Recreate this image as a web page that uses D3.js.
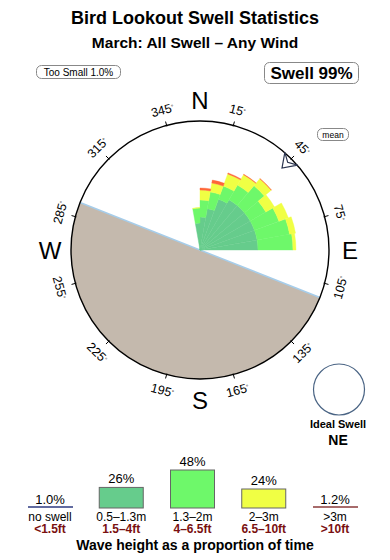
<!DOCTYPE html>
<html>
<head>
<meta charset="utf-8">
<script src="https://cdn.jsdelivr.net/npm/d3@7"></script>
<style>
  body { margin: 0; background: #fff; }
  text { font-family: "Liberation Sans", Arial, sans-serif; }
</style>
</head>
<body>
<div id="container"></div>
<script>
/* CONSTANTS AND GLOBALS */
const width = 390;
const height = 560;
const cx = 200, cy = 250, radius = 129;

/* DATA */
// direction bins (centre bearing, 10 deg wide)
const dirs = [355, 5, 15, 25, 35, 45, 55, 65, 75, 85];
// % of time per bin for each wave height band
const band1 = [1.05, 1.57, 2.54, 4.21, 4.85, 4.85, 4.85, 4.85, 4.85, 4.85]; // 0.5-1.3m
const band2 = [1.49, 2.04, 2.48, 2.46, 3.26, 5.33, 3.48, 5.33, 7.09, 7.62]; // 1.3-2m
const band3 = [0.05, 1.58, 1.65, 2.79, 2.81, 2.29, 2.34, 2.56, 1.63, 0.82]; // 2-3m
const band4 = [0.00, 0.35, 0.60, 0.24, 0.12, 0.08, 0.00, 0.00, 0.00, 0.00]; // >3m
const bandKeys = ["b1", "b2", "b3", "b4"];
const bandColors = ["#66cc8c", "#6ef86a", "#f0ff44", "#ff6638"];

const tickDegs = [15, 45, 75, 105, 135, 165, 195, 225, 255, 285, 315, 345];
const compassLabels = ["N", "E", "S", "W"];
const compassDegs = [0, 90, 180, 270];

// land sector (bearings) and mean direction
const landFrom = 111.6, landTo = 291.6;
const meanDir = 45;

// legend
const legendCats = ["no swell", "0.5–1.3m", "1.3–2m", "2–3m", ">3m"];
const legendFeet = ["<1.5ft", "1.5–4ft", "4–6.5ft", "6.5–10ft", ">10ft"];
const legendPct = [1.0, 26, 48, 24, 1.2];
const legendLabels = ["1.0%", "26%", "48%", "24%", "1.2%"];
const legendColors = [null, "#66cc8c", "#6ef86a", "#f0ff44", null];
const legendLineColors = ["#2e3a80", null, null, null, "#8a3a3a"];

const rad = d => d * Math.PI / 180;
const polar = (deg, r) => [cx + r * Math.sin(rad(deg)), cy - r * Math.cos(rad(deg))];

/* SVG */
const svg = d3.select("#container")
  .append("svg")
  .attr("width", width)
  .attr("height", height);

// titles
svg.append("text")
  .attr("x", 195).attr("y", 24)
  .attr("text-anchor", "middle")
  .style("font-size", "18px").style("font-weight", "bold")
  .text("Bird Lookout Swell Statistics");

svg.append("text")
  .attr("x", 195).attr("y", 48)
  .attr("text-anchor", "middle")
  .style("font-size", "15.5px").style("font-weight", "bold")
  .text("March: All Swell – Any Wind");

// small boxes
function labelBox(x, y, w, h, txt, size, weight) {
  svg.append("rect")
    .attr("x", x).attr("y", y).attr("width", w).attr("height", h)
    .attr("rx", 5)
    .attr("fill", "#fff").attr("stroke", "#888").attr("stroke-width", 1);
  svg.append("text")
    .attr("x", x + w / 2).attr("y", y + h / 2)
    .attr("dy", "0.36em")
    .attr("text-anchor", "middle")
    .style("font-size", size + "px").style("font-weight", weight)
    .text(txt);
}
labelBox(36.5, 65.5, 84, 13, "Too Small 1.0%", 10, "normal");
labelBox(264.5, 62.5, 94, 21, "Swell 99%", 17, "bold");
labelBox(317.5, 128.5, 31, 12, "mean", 8.5, "normal");

/* SCALES */
const rScale = d3.scaleSqrt()
  .domain([0, 24])
  .range([0, radius]);

/* ROSE */
const g = svg.append("g");

// circle background
g.append("circle")
  .attr("cx", cx).attr("cy", cy).attr("r", radius)
  .attr("fill", "#fff");

// land
const landArc = d3.arc()
  .innerRadius(0).outerRadius(radius)
  .startAngle(rad(landFrom)).endAngle(rad(landTo));
g.append("path")
  .attr("transform", `translate(${cx},${cy})`)
  .attr("d", landArc())
  .attr("fill", "#c4b9ad");

// coastline
const c1 = polar(landTo, radius), c2 = polar(landFrom, radius);
g.append("line")
  .attr("x1", c1[0]).attr("y1", c1[1])
  .attr("x2", c2[0]).attr("y2", c2[1])
  .attr("stroke", "#a6cdea").attr("stroke-width", 1.5);

// stacked wedges
const roseData = dirs.map((d, i) => ({
  dir: d, b1: band1[i], b2: band2[i], b3: band3[i], b4: band4[i]
}));
const stacked = d3.stack().keys(bandKeys)(roseData);

const wedge = d3.arc()
  .innerRadius(d => rScale(d[0]))
  .outerRadius(d => rScale(d[1]))
  .startAngle(d => rad(d.data.dir - 5))
  .endAngle(d => rad(d.data.dir + 5));

g.selectAll(".band")
  .data(stacked)
  .join("g")
  .attr("class", "band")
  .attr("fill", (d, i) => bandColors[i])
  .selectAll("path")
  .data(d => d.filter(s => s[1] - s[0] > 0))
  .join("path")
  .attr("transform", `translate(${cx},${cy})`)
  .attr("d", wedge)
  .attr("stroke", function () { return d3.select(this.parentNode).attr("fill"); })
  .attr("stroke-width", 0.4);

// outer circle
g.append("circle")
  .attr("cx", cx).attr("cy", cy).attr("r", radius)
  .attr("fill", "none").attr("stroke", "#000").attr("stroke-width", 1.4);

// ticks
g.selectAll(".tick")
  .data(tickDegs)
  .join("line")
  .attr("class", "tick")
  .attr("x1", d => polar(d, radius - 1)[0])
  .attr("y1", d => polar(d, radius - 1)[1])
  .attr("x2", d => polar(d, radius + 4)[0])
  .attr("y2", d => polar(d, radius + 4)[1])
  .attr("stroke", "#000").attr("stroke-width", 1);

// tick labels
const tl = g.selectAll(".tlabel")
  .data(tickDegs)
  .join("text")
  .attr("class", "tlabel")
  .attr("text-anchor", "middle")
  .attr("dy", "0.36em")
  .attr("transform", d => {
    const p = polar(d, 145);
    const rot = (d > 90 && d < 270) ? d - 180 : d;
    return `translate(${p[0]},${p[1]}) rotate(${rot})`;
  })
  .style("font-size", "12.5px");
tl.append("tspan").text(d => d);
tl.append("tspan").attr("dy", "-0.5em").style("font-size", "6px").text("°");

// compass letters
g.selectAll(".compass")
  .data(compassLabels)
  .join("text")
  .attr("class", "compass")
  .attr("x", (d, i) => polar(compassDegs[i], 150)[0])
  .attr("y", (d, i) => polar(compassDegs[i], 150)[1])
  .attr("dy", "0.36em")
  .attr("text-anchor", "middle")
  .style("font-size", "24px")
  .text(d => d);

// mean direction arrow (notched head pointing in toward the centre)
const arrowPts = [
  [116, 0], [129, -9], [124, 0], [129, 9]
].map(([r, off]) => {
  const p = polar(meanDir, r);
  const n = [Math.cos(rad(meanDir)), Math.sin(rad(meanDir))];
  return [p[0] + off * n[0], p[1] + off * n[1]];
});
g.append("path")
  .attr("d", d3.line()(arrowPts) + "Z")
  .attr("fill", "#fff").attr("stroke", "#2b3550").attr("stroke-width", 1.2)
  .attr("stroke-linejoin", "miter");

/* IDEAL SWELL */
svg.append("circle")
  .attr("cx", 339).attr("cy", 389.5).attr("r", 25.5)
  .attr("fill", "#fff").attr("stroke", "#4a6484").attr("stroke-width", 1.2);
svg.append("text")
  .attr("x", 338).attr("y", 428)
  .attr("text-anchor", "middle")
  .style("font-size", "11px").style("font-weight", "bold")
  .text("Ideal Swell");
svg.append("text")
  .attr("x", 338).attr("y", 445)
  .attr("text-anchor", "middle")
  .style("font-size", "14px").style("font-weight", "bold")
  .text("NE");

/* LEGEND */
const legendBase = 508;
const xLegend = d3.scalePoint()
  .domain(legendCats)
  .range([50, 335]);
const hLegend = d3.scaleLinear()
  .domain([0, 48])
  .range([0, 38]);

const lg = svg.append("g");

lg.selectAll(".lbox")
  .data(legendCats.filter((c, i) => legendColors[i]))
  .join("rect")
  .attr("class", "lbox")
  .attr("x", d => xLegend(d) - 22)
  .attr("y", d => legendBase - hLegend(legendPct[legendCats.indexOf(d)]))
  .attr("width", 44)
  .attr("height", d => hLegend(legendPct[legendCats.indexOf(d)]))
  .attr("fill", d => legendColors[legendCats.indexOf(d)])
  .attr("stroke", "#666").attr("stroke-width", 1);

lg.selectAll(".lline")
  .data(legendCats.filter((c, i) => legendLineColors[i]))
  .join("line")
  .attr("class", "lline")
  .attr("x1", d => xLegend(d) - 22).attr("x2", d => xLegend(d) + 23)
  .attr("y1", legendBase - 1).attr("y2", legendBase - 1)
  .attr("stroke", d => legendLineColors[legendCats.indexOf(d)])
  .attr("stroke-width", 1.5);

lg.selectAll(".lpct")
  .data(legendCats)
  .join("text")
  .attr("class", "lpct")
  .attr("x", d => xLegend(d))
  .attr("y", (d, i) => legendColors[i] ? legendBase - hLegend(legendPct[i]) - 4 : legendBase - 4)
  .attr("text-anchor", "middle")
  .style("font-size", "13px")
  .text((d, i) => legendLabels[i]);

lg.selectAll(".lcat")
  .data(legendCats)
  .join("text")
  .attr("class", "lcat")
  .attr("x", d => xLegend(d))
  .attr("y", 520.5)
  .attr("text-anchor", "middle")
  .style("font-size", "12px")
  .text(d => d);

lg.selectAll(".lft")
  .data(legendFeet)
  .join("text")
  .attr("class", "lft")
  .attr("x", (d, i) => xLegend(legendCats[i]))
  .attr("y", 533)
  .attr("text-anchor", "middle")
  .style("font-size", "12px").style("font-weight", "bold")
  .attr("fill", "#7a1010")
  .text(d => d);

lg.append("text")
  .attr("x", 195).attr("y", 550)
  .attr("text-anchor", "middle")
  .style("font-size", "14px")
  .style("font-weight", "bold")
  .text("Wave height as a proportion of time");
</script>
</body>
</html>
